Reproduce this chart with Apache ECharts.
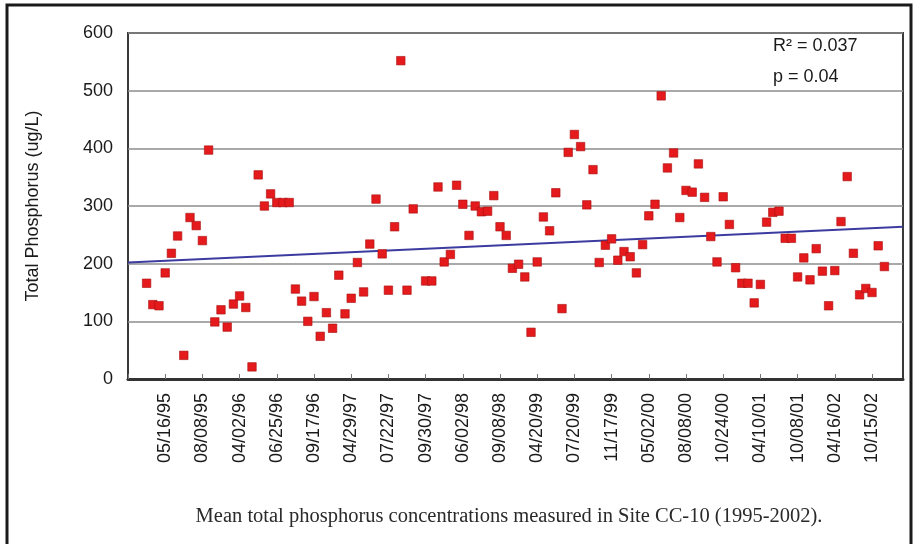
<!DOCTYPE html>
<html>
<head>
<meta charset="utf-8">
<script src="https://cdn.jsdelivr.net/npm/echarts@6/dist/echarts.min.js"></script>
<style>
  html, body { margin: 0; padding: 0; background: #fff; }
  #chart { width: 914px; height: 544px; }
</style>
</head>
<body>
<div id="chart"></div>
<script>
// tick labels, one every 6th sample
const tickLabels = [
    '05/16/95', '08/08/95', '04/02/96', '06/25/96', '09/17/96', '04/29/97', '07/22/97',
    '09/30/97', '06/02/98', '09/08/98', '04/20/99', '07/20/99', '11/17/99', '05/02/00',
    '08/08/00', '10/24/00', '04/10/01', '10/08/01', '04/16/02', '10/15/02',
];

// mean total phosphorus per sample (ug/L), null = no sample
const phosphorus = [
    166, 129, 127, 184, 218, 248, 41, 280, 266, 240,
    397, 99, 120, 90, 130, 144, 124, 21, 354, 300,
    321, 306, 306, 306, 156, 135, 100, 143, 74, 115,
    88, 180, 113, 140, 202, 151, 234, 312, 217, 154,
    264, 552, 154, 295, null, 170, 170, 333, 203, 216,
    336, 303, 249, 300, 290, 291, 318, 264, 249, 192,
    199, 177, 81, 203, 281, 257, 323, 122, 393, 424,
    403, 302, 363, 202, 232, 243, 206, 221, 212, 184,
    233, 283, 303, 491, 366, 392, 280, 327, 324, 373,
    315, 247, 203, 316, 268, 193, 166, 166, 132, 164,
    272, 289, 291, 244, 244, 177, 210, 172, 226, 187,
    127, 188, 273, 351, 218, 146, 157, 150, 231, 195,
];

// linear trend, value at left and right edge of the plot
const trendStart = 202;
const trendEnd = 264;

const padBefore = 3;
const padAfter = 3;
const labelEvery = 6;
const firstLabelSample = 3;

const slotCount = padBefore + phosphorus.length + padAfter;
const categories = new Array(slotCount).fill('');
tickLabels.forEach((t, k) => {
    categories[padBefore + firstLabelSample + k * labelEvery] = t;
});
const seriesData = new Array(padBefore).fill(null)
    .concat(phosphorus, new Array(padAfter).fill(null));

const sans = '"Liberation Sans", Arial, sans-serif';
const chart = echarts.init(document.getElementById('chart'));

chart.setOption({
    animation: false,
    grid: {
        left: 128,
        top: 33,
        right: 11,
        bottom: 165,
        show: true,
        borderColor: '#3a3a3a',
        borderWidth: 2,
    },
    xAxis: {
        type: 'category',
        data: categories,
        boundaryGap: false,
        axisLine: { lineStyle: { color: '#333', width: 3 } },
        axisTick: {
            inside: true,
            interval: labelEvery - 1,
            length: 5,
            lineStyle: { color: '#777' },
        },
        axisLabel: {
            interval: labelEvery - 1,
            rotate: 90,
            margin: 14,
            fontSize: 18,
            fontFamily: sans,
            color: '#1a1a1a',
        },
        splitLine: { show: false },
    },
    yAxis: {
        type: 'value',
        min: 0,
        max: 600,
        interval: 100,
        name: 'Total Phosphorus (ug/L)',
        nameLocation: 'middle',
        nameGap: 86,
        nameTextStyle: { fontSize: 18, fontFamily: sans, color: '#1a1a1a' },
        axisLine: { show: false },
        axisTick: { show: false },
        axisLabel: { margin: 15, fontSize: 18, fontFamily: sans, color: '#1a1a1a' },
        splitLine: { lineStyle: { color: '#8c8c8c', width: 1.5 } },
    },
    series: [
        {
            type: 'line',
            data: [[0, trendStart], [slotCount - 1, trendEnd]],
            symbol: 'none',
            silent: true,
            lineStyle: { color: '#3c3ca0', width: 1.8 },
            z: 1,
        },
        {
            type: 'scatter',
            data: seriesData,
            symbol: 'rect',
            symbolSize: 8.5,
            itemStyle: { color: '#e41a1c', borderColor: '#a81010', borderWidth: 0.6, opacity: 1 },
            z: 2,
        },
    ],
    graphic: [
        {
            type: 'rect',
            shape: { x: 7, y: 5, width: 904, height: 600 },
            style: { fill: 'none', stroke: '#1a1a1a', lineWidth: 3 },
        },
        {
            type: 'text',
            x: 773,
            y: 46,
            style: { text: 'R² = 0.037', font: `18px ${sans}`, fill: '#1a1a1a', verticalAlign: 'middle' },
        },
        {
            type: 'text',
            x: 773,
            y: 77,
            style: { text: 'p = 0.04', font: `18px ${sans}`, fill: '#1a1a1a', verticalAlign: 'middle' },
        },
        {
            type: 'text',
            x: 509,
            y: 517,
            style: {
                text: 'Mean total phosphorus concentrations measured in Site CC-10 (1995-2002).',
                font: '20.5px "Liberation Serif", "Times New Roman", serif',
                fill: '#2a2a2a',
                align: 'center',
                verticalAlign: 'middle',
            },
        },
    ],
});
</script>
</body>
</html>
